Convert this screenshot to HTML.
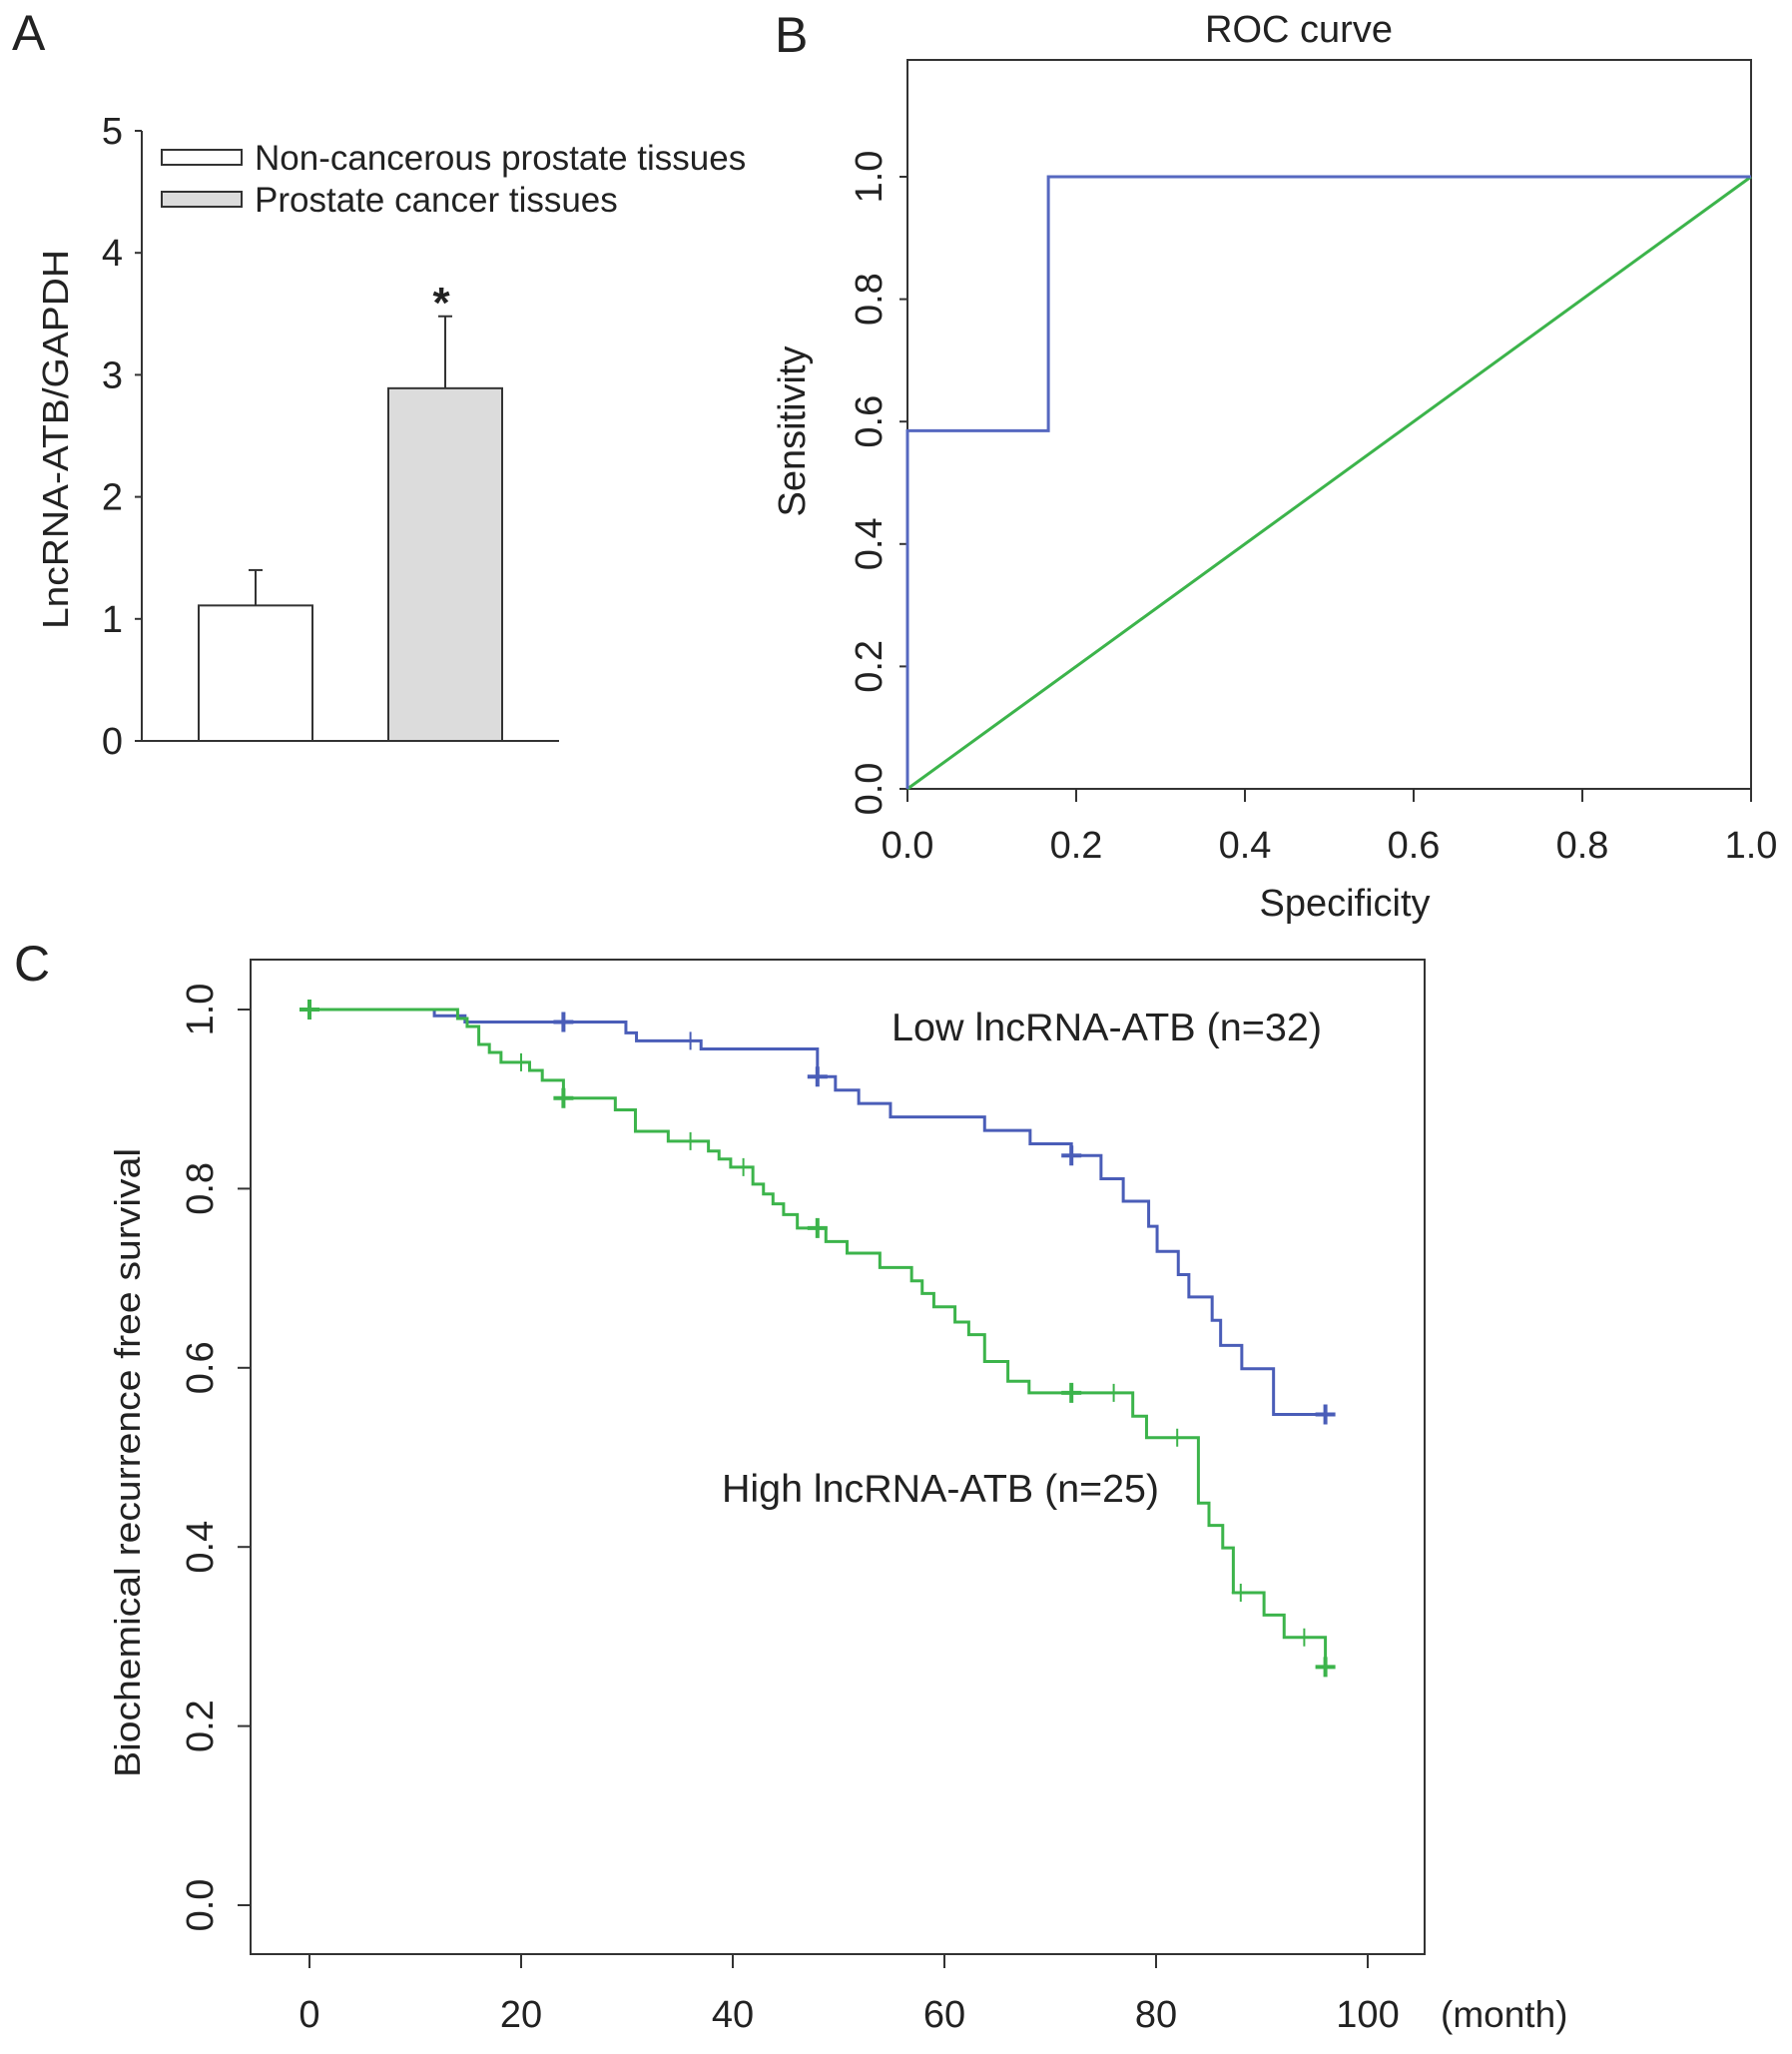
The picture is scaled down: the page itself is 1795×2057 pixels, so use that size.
<!DOCTYPE html>
<html><head><meta charset="utf-8"><style>
html,body{margin:0;padding:0;background:#fff;}
svg text{font-family:"Liberation Sans",Arial,sans-serif;fill:#222;}
</style></head><body>
<svg id="fig" width="1795" height="2052" viewBox="0 0 1795 2052" xmlns="http://www.w3.org/2000/svg">
<text x="12" y="50" font-size="50">A</text>
<text x="776" y="52" font-size="50">B</text>
<text x="14" y="982" font-size="50">C</text>
<g id="pa"></g>
<g id="pb"></g>
<g id="pc"></g>
</svg>
<script>
// ---------- Panel A data ----------
const barCategories = ["Non-cancerous prostate tissues","Prostate cancer tissues"];
const barValues = [1.11, 2.89];
const barErrors = [0.29, 0.59];
const aTicks = [0,1,2,3,4,5];
// ---------- Panel B data ----------
const rocX = [0, 0, 0.167, 0.167, 1.0];
const rocY = [0, 0.585, 0.585, 1.0, 1.0];
const refX = [0, 1];
const refY = [0, 1];
const bTicks = [0, 0.2, 0.4, 0.6, 0.8, 1.0];
const bTickLabels = ["0.0","0.2","0.4","0.6","0.8","1.0"];
// ---------- Panel C data ----------
const lowTimes = [11.8,14.7,29.9,30.9,37,48,49.7,51.9,54.9,63.8,68.1,72,74.8,76.9,79.3,80.1,82.1,83.1,85.3,86.1,88.1,91.1];
const lowSurv  = [0.993,0.986,0.974,0.965,0.956,0.925,0.910,0.895,0.880,0.865,0.850,0.837,0.811,0.786,0.758,0.730,0.704,0.679,0.653,0.625,0.599,0.548];
const lowCensor = [24,36,48,72,96];
const lowCensorBold = [true,false,true,true,true];
const highTimes = [14,14.9,16,17,18.1,20.8,22,24,28.9,30.8,33.9,37.7,38.7,39.8,41.9,42.9,43.8,44.8,46.1,48.8,50.8,53.9,56.9,57.9,59,61,62.3,63.8,66,68,77.8,79.1,84,85,86.3,87.3,90.2,92.1,96];
const highSurv  = [0.990,0.981,0.961,0.952,0.941,0.932,0.921,0.901,0.888,0.864,0.853,0.842,0.833,0.824,0.805,0.794,0.783,0.771,0.756,0.741,0.728,0.712,0.697,0.683,0.668,0.651,0.637,0.607,0.585,0.572,0.546,0.522,0.449,0.424,0.399,0.349,0.324,0.299,0.266];
const highCensor = [0,20,24,36,41,48,72,76,82,88,94,96];
const highCensorBold = [true,false,true,false,false,true,true,false,false,false,false,true];
const cXTicks = [0,20,40,60,80,100];
const cYTicks = [0,0.2,0.4,0.6,0.8,1.0];
const cYTickLabels = ["0.0","0.2","0.4","0.6","0.8","1.0"];

const NS="http://www.w3.org/2000/svg";
function mk(parent, tag, attrs, text){
  const e=document.createElementNS(NS,tag);
  for(const k in attrs) e.setAttribute(k,attrs[k]);
  if(text!==undefined) e.textContent=text;
  parent.appendChild(e); return e;
}
const AX="#333";

// ===== Panel A =====
(function(){
  const g=document.getElementById('pa');
  const ya=v=>742-v*122.2;
  const xl=[199,389], bw=114;
  const fills=["#ffffff","#dcdcdc"];
  let e;
  e=mk(g,'line',{x1:142,y1:ya(0),x2:142,y2:ya(5),stroke:AX,'stroke-width':2});
   
  e=mk(g,'line',{x1:142,y1:ya(0),x2:560,y2:ya(0),stroke:AX,'stroke-width':2});
   
  aTicks.forEach(t=>{
    mk(g,'line',{x1:135,y1:ya(t),x2:142,y2:ya(t),stroke:AX,'stroke-width':2});
    e=mk(g,'text',{x:123,y:ya(t)+13,'font-size':38,'text-anchor':'end'},String(t));
     
  });
  e=mk(g,'text',{transform:'translate(68,440) rotate(-90)','font-size':36,'text-anchor':'middle',textLength:380,lengthAdjust:'spacingAndGlyphs'},'LncRNA-ATB/GAPDH');
   
  barValues.forEach((v,i)=>{
    const cx=xl[i]+bw/2;
    e=mk(g,'line',{x1:cx,y1:ya(v),x2:cx,y2:ya(v+barErrors[i]),stroke:AX,'stroke-width':2});
     
    mk(g,'line',{x1:cx-7,y1:ya(v+barErrors[i]),x2:cx+7,y2:ya(v+barErrors[i]),stroke:AX,'stroke-width':2});
    e=mk(g,'rect',{x:xl[i],y:ya(v),width:bw,height:ya(0)-ya(v),fill:fills[i],stroke:AX,'stroke-width':2});
     
  });
  e=mk(g,'text',{x:442,y:318,'font-size':44,'text-anchor':'middle','font-weight':'bold'},'*');
   
  barCategories.forEach((c,i)=>{
    const y=150+i*42;
    e=mk(g,'rect',{x:162,y:y,width:80,height:15,fill:fills[i],stroke:AX,'stroke-width':2});
     
    e=mk(g,'text',{x:255,y:y+20,'font-size':35},c);
     
  });
})();

// ===== Panel B =====
(function(){
  const g=document.getElementById('pb');
  const L=909,R=1754,T=60,B=790;
  const xs=v=>L+v*(R-L), ys=v=>B-v*613;
  let e;
  e=mk(g,'rect',{x:L,y:T,width:R-L,height:B-T,fill:'none',stroke:AX,'stroke-width':2});
   
  bTicks.forEach((t,i)=>{
    mk(g,'line',{x1:xs(t),y1:B,x2:xs(t),y2:B+13,stroke:AX,'stroke-width':2});
    e=mk(g,'text',{x:xs(t),y:859,'font-size':38,'text-anchor':'middle'},bTickLabels[i]);
     
    mk(g,'line',{x1:L-8,y1:ys(t),x2:L,y2:ys(t),stroke:AX,'stroke-width':2});
    e=mk(g,'text',{transform:`translate(883,${ys(t)}) rotate(-90)`,'font-size':38,'text-anchor':'middle'},bTickLabels[i]);
     
  });
  e=mk(g,'text',{x:1301,y:42,'font-size':38,'text-anchor':'middle'},'ROC curve');
   
  e=mk(g,'text',{x:1347,y:917,'font-size':38,'text-anchor':'middle'},'Specificity');
   
  e=mk(g,'text',{transform:'translate(806,432) rotate(-90)','font-size':38,'text-anchor':'middle'},'Sensitivity');
   
  e=mk(g,'polyline',{points:refX.map((x,i)=>xs(x)+','+ys(refY[i])).join(' '),fill:'none',stroke:'#3cb44b','stroke-width':3});
   
  e=mk(g,'polyline',{points:rocX.map((x,i)=>xs(x)+','+ys(rocY[i])).join(' '),fill:'none',stroke:'#5668c0','stroke-width':3});
   
})();

// ===== Panel C =====
(function(){
  const g=document.getElementById('pc');
  const L=251,R=1427,T=961,B=1957;
  const xs=m=>310+m*10.6, ys=s=>1908-s*897;
  let e;
  e=mk(g,'rect',{x:L,y:T,width:R-L,height:B-T,fill:'none',stroke:AX,'stroke-width':2});
   
  cXTicks.forEach(t=>{
    mk(g,'line',{x1:xs(t),y1:B,x2:xs(t),y2:B+14,stroke:AX,'stroke-width':2});
    e=mk(g,'text',{x:xs(t),y:2030,'font-size':38,'text-anchor':'middle'},String(t));
     
  });
  e=mk(g,'text',{x:1443,y:2030,'font-size':37},'(month)');
   
  cYTicks.forEach((t,i)=>{
    mk(g,'line',{x1:L-13,y1:ys(t),x2:L,y2:ys(t),stroke:AX,'stroke-width':2});
    e=mk(g,'text',{transform:`translate(213,${ys(t)}) rotate(-90)`,'font-size':38,'text-anchor':'middle'},cYTickLabels[i]);
     
  });
  e=mk(g,'text',{transform:'translate(140,1465) rotate(-90)','font-size':36,'text-anchor':'middle',textLength:630,lengthAdjust:'spacingAndGlyphs'},'Biochemical recurrence free survival');
   
  function km(times,surv,end){
    let d=`M${xs(0)},${ys(1)}`;
    times.forEach((t,i)=>{ d+=` H${xs(t)} V${ys(surv[i])}`; });
    d+=` H${xs(end)}`; return d;
  }
  function survAt(times,surv,t){ let s=1; times.forEach((tt,i)=>{ if(tt<=t) s=surv[i]; }); return s; }
  function censor(times,surv,ct,bold,col){
    ct.forEach((t,i)=>{
      const x=xs(t), y=ys(survAt(times,surv,t)), h=bold[i]?10:9, w=bold[i]?4:2;
      const p=mk(g,'path',{d:`M${x-h},${y} H${x+h} M${x},${y-h} V${y+h}`,stroke:col,'stroke-width':w,fill:'none'});
       
    });
  }
  const blue='#4a5db8', green='#3cb44b';
  e=mk(g,'path',{d:km(lowTimes,lowSurv,96),fill:'none',stroke:blue,'stroke-width':3});
   
  e=mk(g,'path',{d:km(highTimes,highSurv,96),fill:'none',stroke:green,'stroke-width':3});
   
  censor(lowTimes,lowSurv,lowCensor,lowCensorBold,blue);
  censor(highTimes,highSurv,highCensor,highCensorBold,green);
  e=mk(g,'text',{x:893,y:1042,'font-size':39,textLength:431,lengthAdjust:'spacingAndGlyphs'},'Low lncRNA-ATB (n=32)');
   
  e=mk(g,'text',{x:723,y:1504,'font-size':39,textLength:438,lengthAdjust:'spacingAndGlyphs'},'High lncRNA-ATB (n=25)');
   
})();
</script>
</body></html>
